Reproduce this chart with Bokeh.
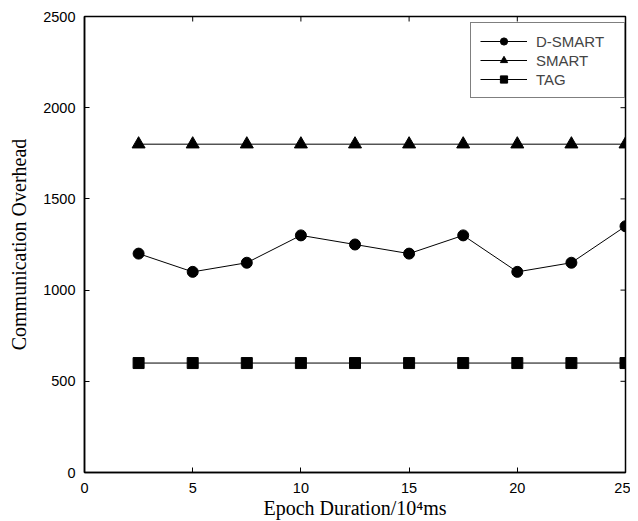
import math
from bokeh.plotting import figure
from bokeh.models import Range1d, FixedTicker, Legend, LegendItem
from bokeh.embed import file_html
from bokeh.resources import INLINE

epoch = [2.5, 5, 7.5, 10, 12.5, 15, 17.5, 20, 22.5, 25]
d_smart = [1200, 1100, 1150, 1300, 1250, 1200, 1300, 1100, 1150, 1350]
smart = [1800, 1800, 1800, 1800, 1800, 1800, 1800, 1800, 1800, 1800]
tag = [600, 600, 600, 600, 600, 600, 600, 600, 600, 600]
x_ticks = [0, 5, 10, 15, 20, 25]
y_ticks = [0, 500, 1000, 1500, 2000, 2500]
x_min, x_max = 0, 25
y_min, y_max = 0, 2500

p = figure(width=630, height=521, output_backend="svg", toolbar_location=None,
           x_range=Range1d(x_min, x_max), y_range=Range1d(y_min, y_max),
           min_border_left=84, min_border_right=5, min_border_top=16, min_border_bottom=49)
p.xgrid.visible = False
p.ygrid.visible = False
p.outline_line_color = "black"
p.outline_line_width = 1.5

for ax in (p.xaxis[0], p.yaxis[0]):
    ax.axis_line_color = "black"
    ax.axis_line_width = 1.5
    ax.major_tick_in = 5
    ax.major_tick_out = 0
    ax.minor_tick_in = 0
    ax.minor_tick_out = 0
    ax.major_tick_line_color = "black"
    ax.major_label_text_font = "Liberation Sans"
    ax.major_label_text_font_size = "14.5px"
    ax.major_label_text_color = "black"
    ax.axis_label_text_font = "Liberation Serif"
    ax.axis_label_text_font_size = "20px"
    ax.axis_label_text_font_style = "normal"
    ax.axis_label_text_color = "black"

p.xaxis.ticker = FixedTicker(ticks=x_ticks)
p.yaxis.ticker = FixedTicker(ticks=y_ticks)
p.xaxis.major_label_standoff = 10
p.yaxis.major_label_standoff = 9
p.xaxis.axis_label = "Epoch Duration/10\u2074ms"
p.yaxis.axis_label = "Communication Overhead"
p.xaxis.axis_label_standoff = 1
p.yaxis.axis_label_standoff = 10

# inward tick marks on the top and right edges of the box (half clipped by the frame)
p.scatter(x_ticks, [y_max] * len(x_ticks), marker="dash", size=10, angle=math.pi / 2,
          line_color="black", line_width=1)
p.scatter([x_max] * len(y_ticks), y_ticks, marker="dash", size=10,
          line_color="black", line_width=1)

r1 = p.line(epoch, d_smart, line_color="black", line_width=1)
m1 = p.scatter(epoch, d_smart, marker="circle", size=11, fill_color="black", line_color="black")
r2 = p.line(epoch, smart, line_color="black", line_width=1)
m2 = p.scatter(epoch, smart, marker="triangle", size=13, fill_color="black", line_color="black")
r3 = p.line(epoch, tag, line_color="black", line_width=1)
m3 = p.scatter(epoch, tag, marker="square", size=11, fill_color="black", line_color="black")

legend = Legend(items=[LegendItem(label="D-SMART", renderers=[r1, m1]),
                       LegendItem(label="SMART", renderers=[r2, m2]),
                       LegendItem(label="TAG", renderers=[r3, m3])],
                location=(386, 374))
legend.margin = 0
legend.padding = 9
legend.spacing = 1
legend.glyph_width = 47
legend.glyph_height = 18
legend.label_width = 79
legend.label_text_font = "Liberation Sans"
legend.label_text_font_size = "15px"
legend.label_standoff = 9
legend.border_line_color = "black"
legend.border_line_width = 1.5
legend.background_fill_alpha = 1
p.add_layout(legend, "center")

open("out.html", "w").write(file_html(p, INLINE))
